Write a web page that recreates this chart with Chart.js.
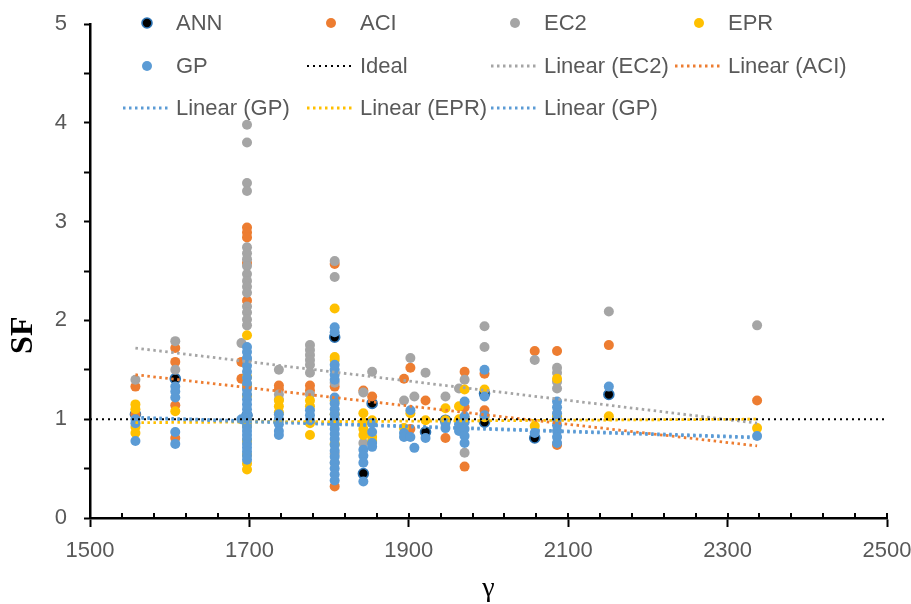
<!DOCTYPE html>
<html>
<head>
<meta charset="utf-8">
<script src="https://cdn.jsdelivr.net/npm/chart.js@4/dist/chart.umd.min.js"></script>
<style>
html,body{margin:0;padding:0;background:#fff;}
#wrap{position:relative;width:911px;height:604px;}
</style>
</head>
<body>
<div id="wrap"><canvas id="c" width="911" height="604"></canvas></div>
<script>
// ---- data (x = gamma, y = SF) ----
const annPoints = [[1557,1.05],[1607,1.41],[1697,1.04],[1807,1.83],[1843,0.45],[1854,1.16],[1921,0.87],[1946,0.99],[1995,1.26],[1995,0.97],[2058,0.81],[2151,1.25]];

const aciPoints = [[1557,1.33],[1557,1.05],[1607,1.72],[1607,1.58],[1607,1.14],[1607,0.81],[1690,1.58],[1690,1.41],
  [1697,2.94],[1697,2.89],[1697,2.84],[1697,2.58],[1697,2.20],[1697,1.33],[1737,1.34],[1737,1.30],[1776,1.34],[1776,1.29],
  [1807,2.57],[1807,1.33],[1807,0.32],[1843,1.29],[1854,1.23],[1894,1.41],[1902,1.52],[1902,0.90],[1921,1.19],[1946,0.81],
  [1970,1.48],[1970,1.12],[1970,0.52],[1995,1.46],[1995,1.09],[2058,1.69],[2086,1.69],[2086,0.74],[2151,1.75],[2337,1.19]];

const ec2Points = [[1557,1.40],[1607,1.79],[1607,1.50],[1690,1.77],
  [1697,3.98],[1697,3.80],[1697,3.39],[1697,3.31],[1697,2.74],[1697,2.68],[1697,2.62],[1697,2.55],[1697,2.47],[1697,2.40],
  [1697,2.34],[1697,2.28],[1697,2.14],[1697,2.08],[1697,2.01],[1697,1.95],[1697,1.60],
  [1737,1.50],[1737,1.25],[1737,1.20],[1776,1.75],[1776,1.70],[1776,1.65],[1776,1.60],[1776,1.55],[1776,1.47],[1776,1.25],
  [1807,2.60],[1807,2.44],[1807,1.37],[1807,0.65],[1807,0.56],[1843,1.27],[1843,0.76],[1854,1.48],[1854,0.96],
  [1894,1.19],[1902,1.62],[1907,1.23],[1921,1.47],[1946,1.23],[1963,1.31],[1970,1.40],[1970,0.66],
  [1995,1.94],[1995,1.73],[2058,1.60],[2086,1.52],[2086,1.47],[2086,1.38],[2086,1.31],[2151,2.09],[2337,1.95]];

const eprPoints = [[1557,1.15],[1557,1.10],[1557,0.92],[1557,0.86],[1607,1.08],
  [1697,1.85],[1697,1.43],[1697,1.35],[1697,1.24],[1697,1.00],[1697,0.93],[1697,0.78],[1697,0.64],[1697,0.55],[1697,0.49],
  [1737,1.19],[1737,1.13],[1737,1.07],[1737,0.99],[1776,1.19],[1776,1.13],[1776,0.96],[1776,0.84],
  [1807,2.12],[1807,1.63],[1807,1.60],[1807,1.19],[1807,1.05],[1807,0.75],
  [1843,1.06],[1843,0.97],[1843,0.90],[1843,0.84],[1854,0.99],[1854,0.82],[1854,0.78],
  [1894,0.91],[1902,1.06],[1921,0.99],[1946,1.11],[1946,0.99],[1963,1.13],[1963,1.00],[1970,1.30],[1970,1.01],
  [1995,1.30],[1995,1.02],[2058,0.93],[2086,1.41],[2086,1.03],[2151,1.03],[2337,0.91]];

const gpPoints = [[1557,1.00],[1557,0.96],[1557,0.78],[1607,1.33],[1607,1.28],[1607,1.22],[1607,0.87],[1607,0.75],[1690,1.00],
  [1697,1.73],[1697,1.68],[1697,1.62],[1697,1.54],[1697,1.48],[1697,1.42],[1697,1.36],[1697,1.30],[1697,1.25],[1697,1.20],
  [1697,1.15],[1697,1.10],[1697,1.05],[1697,1.01],[1697,0.96],[1697,0.92],[1697,0.88],[1697,0.84],[1697,0.80],[1697,0.75],
  [1697,0.71],[1697,0.67],[1697,0.63],[1697,0.59],
  [1737,1.05],[1737,1.00],[1737,0.95],[1737,0.88],[1737,0.84],[1776,1.09],[1776,1.04],[1776,0.99],
  [1807,1.93],[1807,1.88],[1807,1.55],[1807,1.50],[1807,1.45],[1807,1.40],[1807,1.22],[1807,1.16],[1807,1.10],[1807,1.05],
  [1807,1.00],[1807,0.95],[1807,0.90],[1807,0.85],[1807,0.80],[1807,0.74],[1807,0.68],[1807,0.62],[1807,0.56],[1807,0.50],
  [1807,0.44],[1807,0.38],
  [1843,0.69],[1843,0.63],[1843,0.56],[1843,0.37],[1854,0.96],[1854,0.87],[1854,0.76],[1854,0.72],
  [1894,0.86],[1894,0.82],[1902,1.09],[1902,0.82],[1907,0.71],[1921,0.81],[1946,0.96],[1946,0.91],[1963,0.95],[1963,0.88],
  [1970,1.18],[1970,1.03],[1970,0.97],[1970,0.90],[1970,0.83],[1970,0.76],[1995,1.50],[1995,1.23],[1995,1.04],[2058,0.86],
  [2086,1.18],[2086,1.12],[2086,1.06],[2086,1.00],[2086,0.94],[2086,0.88],[2086,0.82],[2086,0.76],[2151,1.33],[2337,0.83]];

// trend lines (end points)
const trendX = [1557, 2337];
const ec2Trend = [1.72, 0.96];
const aciTrend = [1.45, 0.73];
const gpTrend = [1.01, 0.81];
const eprTrend = [0.965, 1.00];
const gp2Trend = [1.02, 0.82];
const idealX = [1500, 2500];
const idealY = [1, 1];

const xTickLabels = [1500, 1700, 1900, 2100, 2300, 2500];
const yTickLabels = [0, 1, 2, 3, 4, 5];
const xMinorStep = 40;

// ---- build datasets ----
const toXY = pts => pts.map(p => ({x: p[0], y: p[1]}));
const lineXY = (xs, ys) => xs.map((x, i) => ({x: x, y: ys[i]}));

const R = 5;
function scatterDs(label, pts, fill, border, order, bw) {
  return {type: 'scatter', label, data: toXY(pts), backgroundColor: fill, borderColor: border,
    borderWidth: bw || 0, pointRadius: R, pointHoverRadius: R, order, kind: 'marker'};
}
function lineDs(label, xs, ys, color, width, dash) {
  return {type: 'line', label, data: lineXY(xs, ys), borderColor: color, backgroundColor: color,
    borderWidth: width, borderDash: dash, pointRadius: 0, fill: false, tension: 0, order: 0, kind: 'line'};
}

const datasets = [
  scatterDs('ANN', annPoints, '#000000', '#2E75B6', 5, 1.6),
  scatterDs('ACI', aciPoints, '#ED7D31', '#ED7D31', 4),
  scatterDs('EC2', ec2Points, '#A5A5A5', '#A5A5A5', 3),
  scatterDs('EPR', eprPoints, '#FFC000', '#FFC000', 2),
  scatterDs('GP', gpPoints, '#5B9BD5', '#5B9BD5', 1),
  lineDs('Ideal', idealX, idealY, '#000000', 2, [2, 4]),
  lineDs('Linear (EC2)', trendX, ec2Trend, '#A5A5A5', 2.8, [2.5, 3.5]),
  lineDs('Linear (ACI)', trendX, aciTrend, '#ED7D31', 2.8, [2.5, 3.5]),
  lineDs('Linear (GP)', trendX, gpTrend, '#5B9BD5', 2.8, [2.5, 3.5]),
  lineDs('Linear (EPR)', trendX, eprTrend, '#FFC000', 2.8, [2.5, 3.5]),
  lineDs('Linear (GP)', trendX, gp2Trend, '#5B9BD5', 2.8, [2.5, 3.5])
];

const TXT = '#595959';
const FONT = '"Liberation Sans", Arial, sans-serif';

// custom legend laid out in 4 columns inside the plot, like the original
const legendPlugin = {
  id: 'gridLegend',
  afterDraw(chart) {
    const ctx = chart.ctx;
    const colCenters = [147, 331, 515, 699];
    const rowY = [23, 66, 108];
    ctx.save();
    ctx.font = '22px ' + FONT;
    ctx.textBaseline = 'middle';
    ctx.textAlign = 'left';
    chart.data.datasets.forEach((ds, i) => {
      const cx = colCenters[i % 4];
      const cy = rowY[Math.floor(i / 4)];
      if (ds.kind === 'marker') {
        ctx.beginPath();
        ctx.arc(cx, cy, R, 0, Math.PI * 2);
        ctx.fillStyle = ds.backgroundColor;
        ctx.fill();
        if (ds.borderWidth) { ctx.lineWidth = ds.borderWidth; ctx.strokeStyle = ds.borderColor; ctx.stroke(); }
      } else {
        ctx.beginPath();
        ctx.setLineDash(ds.borderDash);
        ctx.lineWidth = ds.borderWidth;
        ctx.strokeStyle = ds.borderColor;
        ctx.moveTo(cx - 24, cy);
        ctx.lineTo(cx + 24, cy);
        ctx.stroke();
        ctx.setLineDash([]);
      }
      ctx.fillStyle = TXT;
      ctx.fillText(ds.label, cx + 29, cy + 1);
    });
    ctx.restore();
  }
};

// axis titles and x-axis minor (inside) tick marks
const axisPlugin = {
  id: 'axisExtras',
  afterDraw(chart) {
    const ctx = chart.ctx, a = chart.chartArea, xs = chart.scales.x;
    ctx.save();
    ctx.strokeStyle = '#000';
    ctx.lineWidth = 2;
    for (let v = xs.min; v <= xs.max; v += xMinorStep) {
      const px = Math.round(xs.getPixelForValue(v));
      ctx.beginPath();
      ctx.moveTo(px, a.bottom);
      ctx.lineTo(px, a.bottom - 5);
      ctx.stroke();
    }
    ctx.fillStyle = '#000';
    ctx.textAlign = 'center';
    ctx.textBaseline = 'middle';
    ctx.font = '28px "Liberation Serif", "Times New Roman", serif';
    ctx.fillText('γ', (a.left + a.right) / 2, 589);
    ctx.translate(24, a.top + (a.bottom - a.top) * 0.63);
    ctx.rotate(-Math.PI / 2);
    ctx.font = 'bold 32px "Liberation Serif", "Times New Roman", serif';
    ctx.fillText('SF', 0, 0);
    ctx.restore();
  }
};

new Chart(document.getElementById('c'), {
  type: 'scatter',
  data: {datasets},
  options: {
    responsive: false,
    animation: false,
    devicePixelRatio: 1,
    layout: {padding: {left: 10, right: 24, top: 24, bottom: 10}},
    plugins: {legend: {display: false}, tooltip: {enabled: false}},
    scales: {
      x: {
        type: 'linear', min: 1500, max: 2500,
        afterFit: s => { s.height = 76; s.paddingRight = 0; s.paddingLeft = 0; },
        border: {display: true, color: '#000', width: 2.5},
        grid: {display: true, drawOnChartArea: false, drawTicks: true, tickLength: 9, tickColor: '#000', tickWidth: 2},
        ticks: {stepSize: 200, autoSkip: false, maxRotation: 0, padding: 11, color: TXT,
          font: {family: FONT, size: 22},
          callback: v => xTickLabels.includes(v) ? String(v) : ''}
      },
      y: {
        type: 'linear', min: 0, max: 5,
        afterFit: s => { s.width = 80; s.paddingTop = 0; s.paddingBottom = 0; },
        border: {display: true, color: '#000', width: 2.5},
        grid: {display: true, drawOnChartArea: false, drawTicks: true, tickLength: 6, tickColor: '#000', tickWidth: 2},
        ticks: {stepSize: 0.5, autoSkip: false, padding: 17, color: TXT,
          font: {family: FONT, size: 22},
          callback: v => yTickLabels.includes(v) ? String(v) : ''}
      }
    }
  },
  plugins: [legendPlugin, axisPlugin]
});
</script>
</body>
</html>
